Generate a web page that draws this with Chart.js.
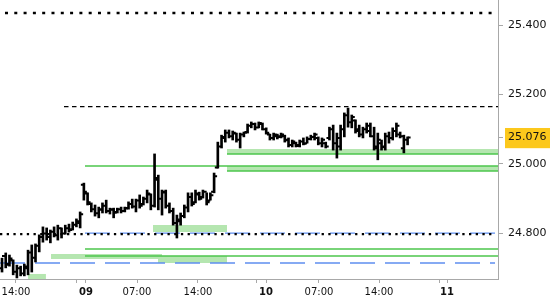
<!DOCTYPE html>
<html>
<head>
<meta charset="utf-8">
<script src="https://cdn.jsdelivr.net/npm/chart.js@4.4.1/dist/chart.umd.min.js"></script>
<style>
  html, body { margin: 0; padding: 0; background: #fff; }
  #wrap { width: 550px; height: 300px; }
</style>
</head>
<body>
<div id="wrap"><canvas id="chart"></canvas></div>
<script>
// OHLC bars, one per time slot
const highs = [24.729, 24.744, 24.738, 24.724, 24.709, 24.706, 24.712, 24.752, 24.767, 24.770,
  24.796, 24.819, 24.816, 24.810, 24.819, 24.824, 24.816, 24.824, 24.827, 24.833,
  24.842, 24.862, 24.945, 24.917, 24.888, 24.882, 24.876, 24.888, 24.896, 24.873,
  24.873, 24.873, 24.876, 24.876, 24.891, 24.899, 24.899, 24.911, 24.905, 24.925,
  24.914, 25.029, 24.968, 24.925, 24.925, 24.888, 24.873, 24.853, 24.859, 24.882,
  24.917, 24.917, 24.925, 24.919, 24.925, 24.917, 24.917, 24.974, 25.063, 25.083,
  25.098, 25.098, 25.095, 25.089, 25.089, 25.092, 25.115, 25.121, 25.118, 25.121,
  25.118, 25.104, 25.086, 25.089, 25.086, 25.089, 25.083, 25.075, 25.069, 25.063,
  25.069, 25.075, 25.078, 25.083, 25.089, 25.078, 25.075, 25.063, 25.106, 25.112,
  25.089, 25.112, 25.147, 25.161, 25.141, 25.127, 25.112, 25.106, 25.118, 25.118,
  25.106, 25.089, 25.069, 25.089, 25.092, 25.104, 25.118, 25.092, 25.083, 25.078];
const lows = [24.689, 24.701, 24.706, 24.681, 24.672, 24.678, 24.678, 24.681, 24.689, 24.718,
  24.747, 24.775, 24.781, 24.773, 24.790, 24.781, 24.787, 24.798, 24.804, 24.810,
  24.819, 24.816, 24.896, 24.882, 24.862, 24.850, 24.845, 24.859, 24.859, 24.856,
  24.845, 24.859, 24.859, 24.862, 24.870, 24.873, 24.862, 24.873, 24.882, 24.888,
  24.868, 24.876, 24.868, 24.853, 24.873, 24.859, 24.824, 24.787, 24.824, 24.845,
  24.862, 24.879, 24.888, 24.896, 24.902, 24.882, 24.896, 24.917, 24.988, 25.046,
  25.063, 25.075, 25.069, 25.063, 25.046, 25.078, 25.089, 25.104, 25.098, 25.104,
  25.098, 25.086, 25.069, 25.069, 25.072, 25.075, 25.063, 25.049, 25.049, 25.049,
  25.049, 25.055, 25.060, 25.069, 25.069, 25.055, 25.049, 25.046, 25.069, 25.040,
  25.017, 25.040, 25.078, 25.106, 25.104, 25.089, 25.078, 25.075, 25.089, 25.078,
  25.040, 25.012, 25.040, 25.040, 25.060, 25.069, 25.078, 25.075, 25.032, 25.055];
const opens = [24.700, 24.735, 24.712, 24.722, 24.690, 24.700, 24.685, 24.700, 24.745, 24.730,
  24.765, 24.790, 24.800, 24.790, 24.805, 24.795, 24.815, 24.800, 24.815, 24.812,
  24.825, 24.830, 24.940, 24.915, 24.885, 24.870, 24.858, 24.868, 24.880, 24.865,
  24.868, 24.862, 24.870, 24.865, 24.873, 24.885, 24.878, 24.895, 24.885, 24.900,
  24.912, 24.880, 24.955, 24.900, 24.918, 24.880, 24.865, 24.830, 24.835, 24.850,
  24.875, 24.905, 24.890, 24.912, 24.905, 24.920, 24.895, 24.920, 24.990, 25.050,
  25.075, 25.090, 25.080, 25.088, 25.070, 25.085, 25.092, 25.110, 25.115, 25.105,
  25.115, 25.100, 25.085, 25.075, 25.080, 25.080, 25.080, 25.070, 25.055, 25.060,
  25.055, 25.065, 25.060, 25.072, 25.078, 25.075, 25.060, 25.060, 25.075, 25.100,
  25.060, 25.050, 25.100, 25.140, 25.120, 25.125, 25.100, 25.085, 25.100, 25.110,
  25.080, 25.045, 25.060, 25.050, 25.080, 25.075, 25.095, 25.085, 25.045, 25.070];
const closes = [24.735, 24.710, 24.728, 24.690, 24.700, 24.685, 24.705, 24.745, 24.730, 24.765,
  24.790, 24.800, 24.790, 24.805, 24.795, 24.815, 24.800, 24.815, 24.810, 24.825,
  24.835, 24.855, 24.920, 24.890, 24.870, 24.858, 24.870, 24.880, 24.865, 24.870,
  24.860, 24.870, 24.865, 24.872, 24.885, 24.878, 24.895, 24.880, 24.900, 24.915,
  24.880, 24.960, 24.900, 24.920, 24.880, 24.865, 24.830, 24.840, 24.850, 24.875,
  24.905, 24.885, 24.915, 24.900, 24.920, 24.890, 24.910, 24.965, 25.050, 25.078,
  25.090, 25.080, 25.090, 25.070, 25.085, 25.090, 25.110, 25.115, 25.105, 25.118,
  25.100, 25.090, 25.075, 25.085, 25.078, 25.085, 25.068, 25.055, 25.065, 25.052,
  25.065, 25.058, 25.072, 25.078, 25.085, 25.060, 25.070, 25.050, 25.100, 25.060,
  25.075, 25.100, 25.140, 25.120, 25.135, 25.095, 25.085, 25.100, 25.095, 25.080,
  25.050, 25.070, 25.048, 25.080, 25.075, 25.095, 25.110, 25.080, 25.070, 25.076];
const lastClose = 25.076;

// axes
const xMin = -0.54, xMax = 133.3;
const yMin = 24.669, yMax = 25.472;
const yTicks = [24.8, 25.0, lastClose, 25.2, 25.4];
const xTickPos = [3.76, 20.15, 22.57, 36.28, 52.67, 68.53, 70.95, 85.19, 101.32, 117.45, 119.6];
const xTickLabels = ['14:00', '', '09', '07:00', '14:00', '', '10', '07:00', '14:00', '', '11'];
const dayLabels = ['09', '10', '11'];

// levels drawn across the chart (price, from slot, to slot)
const topDotted = 25.4345, topDottedFrom = 0.8, topDottedTo = 132.5;
const lowDotted = 24.798, lowDottedFrom = xMin, lowDottedTo = 132.5;
const dashedLevels = [25.165];
const dashedFrom = [16.66];
const blueLevels = [24.801, 24.715];
const blueFrom = [22.3, xMin];
const blueTo = [132.5, 132.5];
const greenLevels = [24.994, 25.029, 24.980, 24.755, 24.735];
const greenFrom = [22.3, 60.47, 60.47, 22.3, 22.3];

// zones (price low/high, from slot, to slot)
const zoneLow = [25.029, 24.980, 24.669, 24.7266, 24.7151, 24.8043];
const zoneHigh = [25.043, 24.994, 24.6835, 24.741, 24.7353, 24.8245];
const zoneFrom = [60.47, 60.47, 7.0, 13.17, 41.9, 40.58];
const zoneTo = [xMax, xMax, 11.8, 43.0, 60.47, 60.47];

Chart.defaults.font.family = "'DejaVu Sans', sans-serif";
Chart.defaults.color = '#111';

function levelLine(v, from, to, color, width, dash, order) {
    return {
        type: 'line',
        data: [{ x: from, y: v }, { x: to, y: v }],
        borderColor: color,
        borderWidth: width,
        borderDash: dash,
        pointRadius: 0,
        fill: false,
        order: order
    };
}

const datasets = [];

datasets.push({
    type: 'bar',
    data: highs.map((h, i) => ({ x: i, y: [lows[i], h] })),
    backgroundColor: '#000',
    barThickness: 2,
    borderWidth: 0,
    order: 0
});

zoneLow.forEach((low, i) => {
    datasets.push({
        type: 'line',
        data: [{ x: zoneFrom[i], y: zoneHigh[i] }, { x: zoneTo[i], y: zoneHigh[i] }],
        borderWidth: 0,
        borderColor: 'rgba(0,0,0,0)',
        backgroundColor: '#b5e6b0',
        pointRadius: 0,
        fill: { value: low },
        order: 5
    });
});

blueLevels.forEach((v, i) => datasets.push(levelLine(v, blueFrom[i], blueTo[i], '#5f8ff0', 1.3, [25, 10], 3)));
greenLevels.forEach((v, i) => datasets.push(levelLine(v, greenFrom[i], xMax, '#4cc64c', 1.5, [], 2)));
dashedLevels.forEach((v, i) => datasets.push(levelLine(v, dashedFrom[i], xMax, '#000', 1.2, [4.5, 3.5], 1)));
datasets.push(levelLine(topDotted, topDottedFrom, topDottedTo, '#000', 2.5, [3, 6.3], 1));
datasets.push(levelLine(lowDotted, lowDottedFrom, lowDottedTo, '#000', 2.3, [2.3, 4.4], 1));

// open / close ticks on the bars
const ohlcTicks = {
    id: 'ohlcTicks',
    afterDatasetsDraw(chart) {
        const { ctx, scales: { x, y } } = chart;
        ctx.save();
        ctx.strokeStyle = '#000';
        ctx.lineWidth = 2;
        ctx.beginPath();
        opens.forEach((o, i) => {
            const px = x.getPixelForValue(i);
            const yo = y.getPixelForValue(o);
            const yc = y.getPixelForValue(closes[i]);
            ctx.moveTo(px - 3, yo);
            ctx.lineTo(px, yo);
            ctx.moveTo(px, yc);
            ctx.lineTo(px + 3, yc);
        });
        ctx.stroke();
        ctx.restore();
    }
};

function noPadding(axis) {
    axis.paddingTop = 0;
    axis.paddingBottom = 0;
    axis.paddingLeft = 0;
    axis.paddingRight = 0;
}

new Chart(document.getElementById('chart'), {
    type: 'bar',
    data: { datasets: datasets },
    options: {
        responsive: true,
        maintainAspectRatio: false,
        animation: false,
        layout: { padding: 0 },
        plugins: {
            legend: { display: false },
            tooltip: { enabled: false }
        },
        scales: {
            x: {
                type: 'linear',
                min: xMin,
                max: xMax,
                offset: false,
                afterBuildTicks: axis => { axis.ticks = xTickPos.map(v => ({ value: v })); },
                afterFit: axis => { axis.height = 21; noPadding(axis); },
                grid: { drawOnChartArea: false, drawTicks: true, tickLength: 4, color: '#a8a8a8', offset: false },
                border: { color: '#a8a8a8', width: 1 },
                ticks: {
                    autoSkip: false,
                    maxRotation: 0,
                    padding: 3,
                    color: '#111',
                    font: ctx => ({
                        size: 10,
                        weight: ctx.tick && dayLabels.includes(ctx.tick.label) ? 'bold' : 'normal'
                    }),
                    callback: (value, index) => xTickLabels[index]
                }
            },
            y: {
                position: 'right',
                min: yMin,
                max: yMax,
                afterBuildTicks: axis => { axis.ticks = yTicks.map(v => ({ value: v })); },
                afterFit: axis => { axis.width = 52; noPadding(axis); },
                grid: { drawOnChartArea: false, drawTicks: true, tickLength: 5, color: '#a8a8a8' },
                border: { color: '#a8a8a8', width: 1 },
                ticks: {
                    autoSkip: false,
                    padding: 5,
                    color: '#111',
                    font: { size: 11 },
                    showLabelBackdrop: ctx => ctx.tick && ctx.tick.value === lastClose,
                    backdropColor: '#fcc81c',
                    backdropPadding: { top: 3, bottom: 4, left: 3, right: 8 },
                    callback: value => value.toFixed(3)
                }
            }
        }
    },
    plugins: [ohlcTicks]
});
</script>
</body>
</html>
